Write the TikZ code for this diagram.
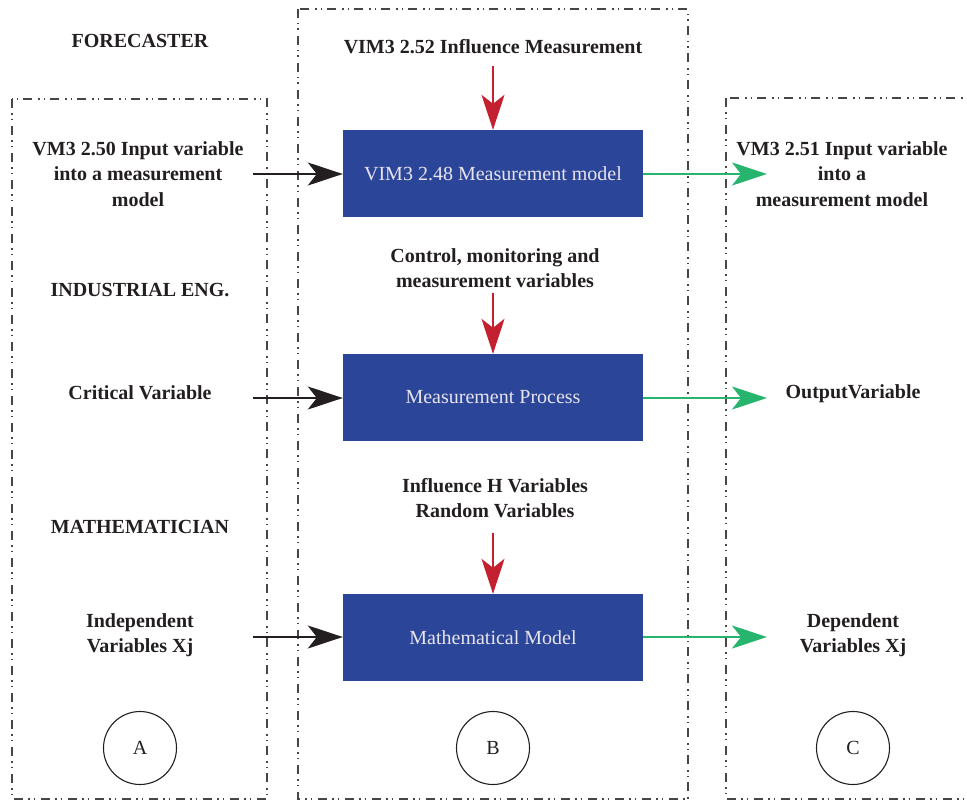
\documentclass[tikz,border=0pt]{standalone}
\usepackage{fontspec}
\setmainfont{Liberation Serif}
\usetikzlibrary{arrows.meta}
\definecolor{boxblue}{RGB}{43,69,153}
\definecolor{arrred}{RGB}{196,32,47}
\definecolor{arrgreen}{RGB}{39,181,110}
\definecolor{txtdark}{RGB}{35,31,32}
\definecolor{boxtxt}{RGB}{232,228,236}
\definecolor{frame}{RGB}{70,70,70}
\tikzset{
  lbl/.style={font=\fontsize{20}{25.5}\selectfont\bfseries, text=txtdark, align=center, inner sep=2pt},
  bluebox/.style={fill=boxblue, minimum width=300pt, minimum height=87pt, inner sep=0pt,
    font=\fontsize{20}{25}\selectfont, text=boxtxt},
  panel/.style={draw=frame, line width=1.3pt,
    dash pattern=on 9pt off 5pt on 1.5pt off 4pt on 1.5pt off 6pt},
  tipshape/.style={-{Stealth[length=35pt,width=23pt,inset=9pt]}},
  blackarrow/.style={tipshape, draw=txtdark, line width=2pt},
  redarrow/.style={tipshape, draw=arrred, fill=arrred, line width=2pt},
  greenarrow/.style={tipshape, draw=arrgreen, fill=arrgreen, line width=2.6pt},
  letter/.style={circle, draw=txtdark, line width=1.1pt, minimum size=73pt, inner sep=0pt,
    font=\fontsize{20}{24}\selectfont, text=txtdark},
}
\begin{document}
\begin{tikzpicture}[x=1pt,y=-1pt]
\useasboundingbox (0,0) rectangle (967,800);
\clip (0,0) rectangle (967,800);
% panels
\draw[panel] (12,99) rectangle (267,799);
\draw[panel] (298,9) rectangle (688,799);
\draw[panel] (726,98) rectangle (990,799);
% blue boxes
\node[bluebox] (m1) at (493,173.5) {VIM3 2.48 Measurement model};
\node[bluebox] (m2) at (493,397.5) {Measurement Process};
\node[bluebox] (m3) at (493,637.5) {Mathematical Model};
% top labels
\node[lbl] (fc) at (140,41) {FORECASTER};
\node[lbl] (inf) at (493,47) {VIM3 2.52 Influence Measurement};
\node[lbl] (ctl) at (495,268) {Control, monitoring and\\measurement variables};
\node[lbl] (rnd) at (495,498) {Influence H Variables\\Random Variables};
% left labels
\node[lbl] (in1) at (138,174) {VM3 2.50 Input variable\\into a measurement\\model};
\node[lbl] (ie) at (140,290) {INDUSTRIAL ENG.};
\node[lbl] (cv) at (140,393) {Critical Variable};
\node[lbl] (ma) at (140,527) {MATHEMATICIAN};
\node[lbl] (iv) at (140,635) {Independent\\Variables Xj};
% right labels
\node[lbl] (out1) at (842,174) {VM3 2.51 Input variable\\into a\\measurement model};
\node[lbl] (ov) at (853,394) {OutputVariable};
\node[lbl] (dv) at (853,635) {Dependent\\Variables Xj};
% circles
\node[letter] (A) at (140,748) {A};
\node[letter] (B) at (493,748) {B};
\node[letter] (C) at (853,748) {C};
% arrow ends
\coordinate (s1) at (253,174);
\coordinate (s2) at (253,398);
\coordinate (s3) at (253,637);
\coordinate (e1) at (767,174);
\coordinate (e2) at (767,398);
\coordinate (e3) at (767,637);
\coordinate (r1) at (493,66);
\coordinate (r2) at (493,293);
\coordinate (r3) at (493,533);
% arrows
\draw[blackarrow] (s1) -- (m1.west |- s1);
\draw[blackarrow] (s2) -- (m2.west |- s2);
\draw[blackarrow] (s3) -- (m3.west |- s3);
\draw[greenarrow] (m1.east |- e1) -- (e1);
\draw[greenarrow] (m2.east |- e2) -- (e2);
\draw[greenarrow] (m3.east |- e3) -- (e3);
\draw[redarrow] (r1) -- (m1.north);
\draw[redarrow] (r2) -- (m2.north);
\draw[redarrow] (r3) -- (m3.north);
\end{tikzpicture}
\end{document}
